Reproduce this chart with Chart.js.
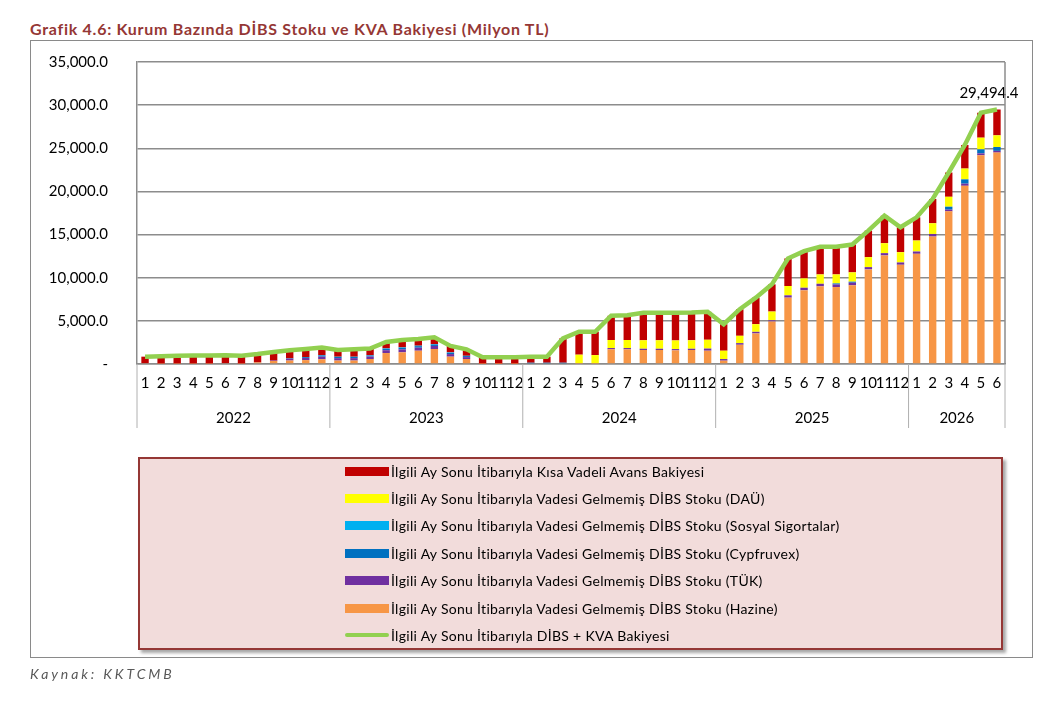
<!DOCTYPE html>
<html>
<head>
<meta charset="utf-8">
<script src="https://cdn.jsdelivr.net/npm/chart.js@4.4.1/dist/chart.umd.min.js"></script>
<style>
  body { margin: 0; background: #fff; font-family: Lato, "Open Sans", sans-serif; }
  #page { position: relative; width: 1058px; height: 702px; overflow: hidden; }
  #title { position: absolute; left: 30px; top: 19px; font-size: 16px; font-weight: bold; color: #953735; letter-spacing: 0.72px; }
  #frame { position: absolute; left: 30px; top: 40px; width: 1003px; height: 618px; border: 1.5px solid #8a8a8a; box-sizing: border-box; }
  #chartBox { position: absolute; left: 0; top: 0; width: 1058px; height: 702px; }
  #legend { position: absolute; left: 138px; top: 457px; width: 865px; height: 193px; box-sizing: border-box;
            background: #f2dcdb; border: 2px solid #953735; box-shadow: 3px 3px 3px rgba(0,0,0,.35); }
  .item { position: absolute; left: 205px; height: 20px; display: flex; align-items: center; font-size: 14px; letter-spacing: 0.3px; color: #000; white-space: nowrap; }
  .sw { width: 44px; margin-right: 2px; }
  #source { position: absolute; left: 30px; top: 665px; font-size: 14px; font-style: italic; letter-spacing: 2.9px; color: #595959; }
</style>
</head>
<body>
<div id="page">
  <div id="title">Grafik 4.6: Kurum Bazında DİBS Stoku ve KVA Bakiyesi (Milyon TL)</div>
  <div id="frame"></div>
  <div id="chartBox"><canvas id="dibsChart"></canvas></div>
  <div id="legend"></div>
  <div id="source">Kaynak: KKTCMB</div>
</div>
<script>
// =======================
// Data (Milyon TL)
// =======================

const years = ["2022", "2023", "2024", "2025", "2026"];
const monthsPerYear = [12, 12, 12, 12, 6];

const hazine = [
    100, 50, 50, 50, 50, 100, 50, 180, 350, 400, 450, 550,
    400, 400, 580, 1270, 1350, 1540, 1740, 850, 580, 30, 30, 30,
    0, 0, 0, 50, 50, 1700, 1700, 1620, 1620, 1580, 1620, 1540,
    385, 2230, 3540, 4920, 7690, 8540, 9000, 8920, 9120, 10960, 12580, 11500,
    12770, 14770, 17690, 20650, 24190, 24500
];

const tuk = [
    0, 0, 0, 0, 0, 0, 0, 0, 50, 200, 250, 300,
    280, 280, 280, 330, 350, 350, 350, 300, 220, 0, 0, 0,
    0, 0, 0, 30, 30, 150, 150, 150, 150, 150, 150, 250,
    190, 190, 190, 150, 270, 300, 300, 300, 300, 270, 270, 270,
    270, 300, 200, 250, 220, 200
];

const cypfruvex = [
    0, 0, 0, 0, 0, 0, 0, 0, 0, 50, 100, 150,
    130, 130, 130, 170, 180, 180, 180, 150, 120, 0, 0, 0,
    150, 150, 150, 0, 0, 0, 0, 0, 0, 0, 0, 0,
    0, 0, 0, 0, 0, 0, 0, 120, 120, 0, 0, 0,
    0, 0, 340, 500, 470, 450
];

const sosyal = [
    0, 0, 0, 0, 0, 0, 0, 0, 0, 0, 0, 30,
    30, 30, 30, 40, 50, 50, 50, 50, 30, 0, 0, 0,
    0, 0, 0, 0, 0, 0, 0, 0, 0, 0, 0, 0,
    0, 0, 0, 0, 0, 0, 0, 0, 0, 0, 0, 0,
    0, 0, 0, 0, 0, 0
];

const dau = [
    0, 0, 0, 0, 0, 0, 0, 0, 0, 0, 0, 0,
    0, 0, 0, 0, 0, 0, 0, 0, 0, 0, 0, 0,
    0, 0, 0, 1000, 950, 930, 930, 980, 980, 1000, 980, 1020,
    965, 850, 885, 1010, 1080, 1080, 1080, 1040, 1080, 1150, 1150, 1190,
    1270, 1240, 1150, 1250, 1350, 1350
];

const kva = [
    750, 850, 900, 930, 930, 900, 900, 970, 1000, 950, 950, 870,
    780, 860, 780, 740, 850, 780, 780, 750, 750, 740, 740, 740,
    700, 700, 2820, 2660, 2710, 2810, 2870, 3190, 3190, 3210, 3210, 3240,
    3075, 3080, 3075, 3150, 3190, 3160, 3200, 3200, 3230, 3080, 3190, 2890,
    2690, 2810, 2810, 2730, 2890, 2994.4
];

const toplam = [
    850, 900, 950, 980, 980, 1000, 950, 1150, 1400, 1600, 1750, 1900,
    1620, 1700, 1800, 2550, 2780, 2900, 3100, 2100, 1700, 770, 770, 770,
    850, 850, 2970, 3740, 3740, 5590, 5650, 5940, 5940, 5940, 5960, 6050,
    4615, 6350, 7690, 9230, 12230, 13080, 13580, 13580, 13850, 15460, 17190, 15850,
    17000, 19120, 22190, 25380, 29120, 29494.4
];

const yTicks = [0, 5000, 10000, 15000, 20000, 25000, 30000, 35000];

const monthLabels = [];
monthsPerYear.forEach(n => {
    for (let m = 1; m <= n; m++) monthLabels.push(String(m));
});

const fmt = v => v.toLocaleString("en-US", { minimumFractionDigits: 1, maximumFractionDigits: 1 });

// =======================
// Plugins
// =======================

const yearRow = {
    id: "yearRow",
    afterDraw(chart) {
        const ctx = chart.ctx;
        const area = chart.chartArea;
        const x = chart.scales.x;
        const half = (x.getPixelForValue(1) - x.getPixelForValue(0)) / 2;
        ctx.save();
        ctx.strokeStyle = "#b0b0b0";
        ctx.lineWidth = 1;
        ctx.fillStyle = "#000";
        ctx.font = "15px Lato";
        ctx.textAlign = "center";
        ctx.textBaseline = "middle";
        let start = 0;
        monthsPerYear.forEach((n, i) => {
            const left = x.getPixelForValue(start) - half;
            const right = x.getPixelForValue(start + n - 1) + half;
            ctx.beginPath();
            ctx.moveTo(left, area.bottom);
            ctx.lineTo(left, area.bottom + 64);
            if (i === monthsPerYear.length - 1) {
                ctx.moveTo(right, area.bottom);
                ctx.lineTo(right, area.bottom + 64);
            }
            ctx.stroke();
            ctx.fillText(years[i], (left + right) / 2, area.bottom + 54);
            start += n;
        });
        // right border of plot area
        ctx.strokeStyle = "#8c8c8c";
        ctx.lineWidth = 1.5;
        ctx.beginPath();
        ctx.moveTo(area.right, area.top);
        ctx.lineTo(area.right, area.bottom);
        ctx.stroke();
        ctx.restore();
    }
};

const lastLabel = {
    id: "lastLabel",
    afterDatasetsDraw(chart) {
        const meta = chart.getDatasetMeta(chart.data.datasets.length - 1);
        const pt = meta.data[meta.data.length - 1];
        const ctx = chart.ctx;
        ctx.save();
        ctx.fillStyle = "#000";
        ctx.font = "15px Lato";
        ctx.textAlign = "center";
        ctx.textBaseline = "bottom";
        ctx.fillText(fmt(toplam[toplam.length - 1]), pt.x - 8, pt.y - 9);
        ctx.restore();
    }
};

// =======================
// Chart
// =======================

const canvas = document.getElementById("dibsChart");

const bar = (label, data, color) => ({
    type: "bar",
    label: label,
    data: data,
    backgroundColor: color,
    stack: "dibs",
    order: 1,
    barPercentage: 0.46,
    categoryPercentage: 1
});

const chart = new Chart(canvas, {
    data: {
        labels: monthLabels,
        datasets: [
            bar("İlgili Ay Sonu İtibarıyla Vadesi Gelmemiş DİBS Stoku (Hazine)", hazine, "#f79646"),
            bar("İlgili Ay Sonu İtibarıyla Vadesi Gelmemiş DİBS Stoku (TÜK)", tuk, "#7030a0"),
            bar("İlgili Ay Sonu İtibarıyla Vadesi Gelmemiş DİBS Stoku (Cypfruvex)", cypfruvex, "#0070c0"),
            bar("İlgili Ay Sonu İtibarıyla Vadesi Gelmemiş DİBS Stoku (Sosyal Sigortalar)", sosyal, "#00b0f0"),
            bar("İlgili Ay Sonu İtibarıyla Vadesi Gelmemiş DİBS Stoku (DAÜ)", dau, "#ffff00"),
            bar("İlgili Ay Sonu İtibarıyla Kısa Vadeli Avans Bakiyesi", kva, "#c00000"),
            {
                type: "line",
                label: "İlgili Ay Sonu İtibarıyla DİBS + KVA Bakiyesi",
                data: toplam,
                borderColor: "#92d050",
                borderWidth: 4.5,
                pointRadius: 0,
                tension: 0,
                stack: "line",
                order: 0
            }
        ]
    },
    options: {
        responsive: true,
        maintainAspectRatio: false,
        animation: false,
        layout: { padding: { left: 40, right: 53, top: 62, bottom: 272 } },
        plugins: {
            legend: { display: false },
            tooltip: { enabled: false }
        },
        scales: {
            x: {
                stacked: true,
                offset: true,
                grid: { display: false, drawTicks: false },
                border: { color: "#8c8c8c", width: 1.5 },
                ticks: {
                    autoSkip: false,
                    maxRotation: 0,
                    padding: 10,
                    color: "#000",
                    font: { family: "Lato", size: 15 }
                },
                afterFit(scale) { scale.height = 66; }
            },
            y: {
                stacked: true,
                min: 0,
                max: 35000,
                afterBuildTicks(scale) { scale.ticks = yTicks.map(v => ({ value: v })); },
                grid: { color: "#8c8c8c", lineWidth: 1.5, drawTicks: false },
                border: { color: "#8c8c8c", width: 1.5 },
                ticks: {
                    padding: 29,
                    color: "#000",
                    font: { family: "Lato", size: 15 },
                    callback: v => v === 0 ? "-" : fmt(v)
                },
                afterFit(scale) { scale.width = 97; }
            }
        }
    },
    plugins: [yearRow, lastLabel]
});

// =======================
// Legend
// =======================

const legendBox = document.getElementById("legend");
const ds = chart.data.datasets;
const legendOrder = [5, 4, 3, 2, 1, 0, 6];

legendOrder.forEach((idx, row) => {
    const d = ds[idx];
    const item = document.createElement("div");
    item.className = "item";
    item.style.top = (2 + row * 27.4) + "px";
    const sw = document.createElement("span");
    sw.className = "sw";
    if (d.type === "line") {
        sw.style.height = "4px";
        sw.style.background = d.borderColor;
        sw.style.borderRadius = "2px";
    } else {
        sw.style.height = "9px";
        sw.style.background = d.backgroundColor;
    }
    const txt = document.createElement("span");
    txt.textContent = d.label;
    item.appendChild(sw);
    item.appendChild(txt);
    legendBox.appendChild(item);
});
</script>
</body>
</html>
